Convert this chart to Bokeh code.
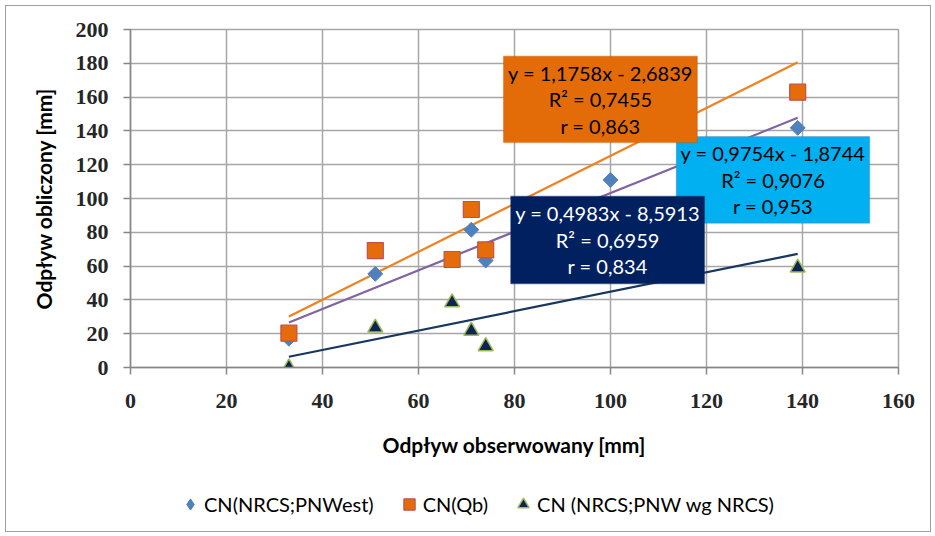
import numpy as np
from bokeh.plotting import figure
from bokeh.layouts import column
from bokeh.models import Legend, LegendItem, BoxAnnotation, Label, Range1d
from bokeh.embed import file_html
from bokeh.resources import INLINE

# ---------------- data ----------------
obs = [33, 51, 67, 71, 74, 100, 139]                      # Odpływ obserwowany [mm]
cn_pnwest = [17, 55.4, 64, 81.5, 63.3, 111, 141.8]        # CN(NRCS;PNWest)
cn_qb = [20.3, 69.2, 63.9, 93.5, 69.6, 163, 162.9]        # CN(Qb)
cn_pnw_nrcs = [0, 23.5, 38.5, 21.7, 12.5, 64, 59]         # CN (NRCS;PNW wg NRCS)

series_names = ["CN(NRCS;PNWest)", "CN(Qb)", "CN (NRCS;PNW wg NRCS)"]
x_ticks = [0, 20, 40, 60, 80, 100, 120, 140, 160]
y_ticks = [0, 20, 40, 60, 80, 100, 120, 140, 160, 180, 200]

eq_pnwest = ["y = 0,9754x - 1,8744", "R² = 0,9076", "r = 0,953"]
eq_qb = ["y = 1,1758x - 2,6839", "R² = 0,7455", "r = 0,863"]
eq_nrcs = ["y = 0,4983x - 8,5913", "R² = 0,6959", "r = 0,834"]

x_title = "Odpływ obserwowany [mm]"
y_title = "Odpływ obliczony [mm]"

# ---------------- styles ----------------
SANS = "Lato"
SERIF = "Liberation Serif"
GRID = "#A6A6A6"
BLUE = dict(fill_color="#4F81BD", line_color="#4F81BD", line_width=1)
STYLE_QB = dict(marker="square", fill_color="#E46C0A", line_color="#C0504D", line_width=1.2)
STYLE_NRCS = dict(marker="triangle", fill_color="#0F2450", line_color="#9BBB59", line_width=1.5)

# ---------------- main figure ----------------
p = figure(frame_width=768, frame_height=338,
           x_range=Range1d(0, 160), y_range=Range1d(0, 200),
           min_border_left=124, min_border_right=32,
           min_border_top=23, min_border_bottom=109,
           output_backend="svg", toolbar_location=None)
p.background_fill_color = "white"
p.border_fill_color = "white"
p.outline_line_color = GRID
p.outline_line_width = 1.5

for ax, ticks in ((p.xaxis, x_ticks), (p.yaxis, y_ticks)):
    ax.ticker = ticks
    ax.minor_tick_line_color = None
    ax.major_tick_in = 0
    ax.major_tick_out = 7
    ax.major_tick_line_color = "#868686"
    ax.major_tick_line_width = 1.5
    ax.axis_line_color = "#868686"
    ax.axis_line_width = 1.5
    ax.major_label_text_font = SERIF
    ax.major_label_text_font_style = "bold"
    ax.major_label_text_font_size = "22px"
    ax.major_label_text_color = "#262626"
    ax.axis_label_text_font = SANS
    ax.axis_label_text_font_style = "bold"
    ax.axis_label_text_font_size = "21px"
    ax.axis_label_text_color = "black"

p.xaxis.major_label_standoff = 19
p.xaxis.axis_label = x_title
p.xaxis.axis_label_standoff = 21
p.yaxis.major_label_standoff = 15
p.yaxis.axis_label = y_title
p.yaxis.axis_label_standoff = 17

p.grid.grid_line_color = GRID
p.grid.grid_line_width = 1.5
p.xgrid.ticker = x_ticks
p.ygrid.ticker = y_ticks

# trend lines: least squares fit of each series
xa = np.array(obs, dtype=float)
xl = np.array([xa.min(), xa.max()])
trend_colors = ["#8064A2", "#F0821E", "#17375E"]
for ys, col in zip((cn_pnwest, cn_qb, cn_pnw_nrcs), trend_colors):
    k, b = np.polyfit(xa, np.array(ys, dtype=float), 1)
    p.line(xl, k * xl + b, line_color=col, line_width=2.2)

# markers (diamond = square turned by 45 degrees)
p.scatter(obs, cn_pnwest, marker="square", angle=np.pi / 4, size=10.5, **BLUE)
p.scatter(obs, cn_qb, size=16, **STYLE_QB)
p.scatter(obs, cn_pnw_nrcs, size=15, **STYLE_NRCS)

# equation boxes
def eq_box(left, right, bottom, top, fill, border, lines, tcolor):
    p.add_layout(BoxAnnotation(left=left, right=right, bottom=bottom, top=top,
                               fill_color=fill, fill_alpha=1.0,
                               line_color=border, line_width=1.2))
    cx = (left + right) / 2
    cy = (bottom + top) / 2
    for txt, off in zip(lines, (26.5, 0, -26.5)):
        p.add_layout(Label(x=cx, y=cy, y_offset=off, text=txt,
                           text_align="center", text_baseline="middle",
                           text_font=SANS, text_font_size="20px",
                           text_color=tcolor))

eq_box(113.7, 154.0, 85.4, 136.7, "#00B0F0", "#8064A2", eq_pnwest, "black")
eq_box(77.7, 118.1, 133.1, 184.2, "#E36C09", "#B7560A", eq_qb, "black")
eq_box(79.2, 119.6, 49.5, 101.4, "#002060", "#1F3864", eq_nrcs, "white")

# ---------------- legend strip (separate panel below the chart) ----------------
# the same series are plotted here only to provide legend glyphs; the range keeps them out of view
lg = figure(width=924, height=55, x_range=Range1d(0, 160), y_range=Range1d(1000, 1001),
            min_border=0, output_backend="svg", toolbar_location=None)
lg.axis.visible = False
lg.grid.visible = False
lg.outline_line_color = None
lg.background_fill_color = "white"
lg.border_fill_color = "white"
k1 = lg.scatter(obs, cn_pnwest, marker="diamond", size=10, **BLUE)
k2 = lg.scatter(obs, cn_qb, size=10, **STYLE_QB)
k3 = lg.scatter(obs, cn_pnw_nrcs, size=10, **STYLE_NRCS)
legend = Legend(items=[LegendItem(label=series_names[0], renderers=[k1]),
                       LegendItem(label=series_names[1], renderers=[k2]),
                       LegendItem(label=series_names[2], renderers=[k3])],
                orientation="horizontal", location=(46, 13),
                glyph_width=28, glyph_height=28, label_standoff=0,
                spacing=21, padding=0, margin=0,
                label_text_font=SANS, label_text_font_size="20px",
                label_text_color="black",
                border_line_alpha=0, background_fill_alpha=0)
lg.add_layout(legend, "center")

layout = column(p, lg, spacing=0, margin=(5, 0, 0, 5),
                styles={"border": "1px solid #A0A0A0", "background-color": "white"})

open("out.html", "w").write(file_html(layout, INLINE))
